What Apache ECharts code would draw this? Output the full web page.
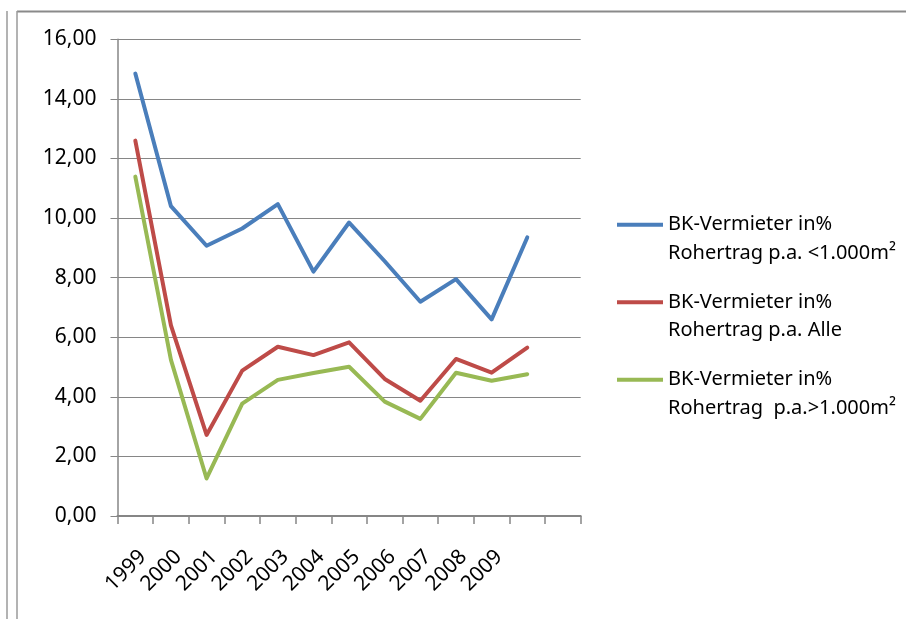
<!DOCTYPE html>
<html>
<head>
    <meta charset="utf-8" />
    <title>BK-Vermieter</title>
    <script src="https://cdn.jsdelivr.net/npm/echarts@6/dist/echarts.min.js"></script>
    <style>
        html, body { margin: 0; padding: 0; background: #fff; }
    </style>
</head>
<body>
    <div id="main" style="width: 906px;height:619px;"></div>
    <script type="text/javascript">
        // Jahre (die letzten zwei Kategorien sind leer beschriftet)
        const years = ['1999', '2000', '2001', '2002', '2003', '2004', '2005', '2006', '2007', '2008', '2009', '', ''];

        const namesSmall = 'BK-Vermieter in%\nRohertrag p.a. <1.000m²';
        const namesAll = 'BK-Vermieter in%\nRohertrag p.a. Alle';
        const namesLarge = 'BK-Vermieter in%\nRohertrag  p.a.>1.000m²';

        const valuesSmall = [14.85, 10.4, 9.07, 9.65, 10.47, 8.2, 9.85, 8.55, 7.19, 7.95, 6.6, 9.35];
        const valuesAll = [12.6, 6.4, 2.72, 4.88, 5.68, 5.4, 5.83, 4.6, 3.87, 5.27, 4.81, 5.65];
        const valuesLarge = [11.39, 5.24, 1.26, 3.77, 4.57, 4.8, 5.01, 3.84, 3.26, 4.81, 4.54, 4.76];

        const yTicks = { min: 0, max: 16, interval: 2 };

        const font = 'Noto Sans';
        const gray = '#868686';

        let myChart = echarts.init(document.getElementById('main'));

        function lineSerie(name, data, color) {
            return {
                name: name,
                type: 'line',
                data: data,
                symbol: 'none',
                color: color,
                lineStyle: { width: 4, color: color, cap: 'round', join: 'round' }
            };
        }

        let option = {
            animation: false,
            backgroundColor: '#fff',
            grid: {
                left: 117.5,
                right: 325.3,
                top: 39.3,
                bottom: 103,
                containLabel: false,
                outerBoundsMode: 'none'
            },
            xAxis: {
                type: 'category',
                data: years,
                boundaryGap: true,
                axisLine: { show: true, lineStyle: { color: gray, width: 2 } },
                axisTick: { show: true, length: 8, interval: 0, lineStyle: { color: gray, width: 1.5 } },
                axisLabel: {
                    interval: 0,
                    rotate: 45,
                    margin: 30,
                    align: 'right',
                    verticalAlign: 'top',
                    fontFamily: font,
                    fontSize: 21,
                    color: '#000'
                },
                splitLine: { show: false }
            },
            yAxis: {
                type: 'value',
                min: yTicks.min,
                max: yTicks.max,
                interval: yTicks.interval,
                axisLine: { show: true, lineStyle: { color: gray, width: 1.5 } },
                axisTick: { show: true, length: 7, lineStyle: { color: gray, width: 1 } },
                axisLabel: {
                    margin: 21,
                    fontFamily: font,
                    fontSize: 21,
                    color: '#000',
                    formatter: v => v.toFixed(2).replace('.', ',')
                },
                splitLine: { show: true, lineStyle: { color: gray, width: 1 } }
            },
            legend: {
                orient: 'vertical',
                left: 617,
                top: 182,
                padding: 0,
                itemGap: -8,
                icon: 'rect',
                itemWidth: 46,
                itemHeight: 4,
                selectedMode: false,
                // leere erste Zeile, damit das Linien-Symbol auf Höhe der ersten Textzeile steht
                formatter: n => '\n' + n,
                textStyle: {
                    fontFamily: font,
                    fontSize: 20,
                    lineHeight: 28.5,
                    color: '#000'
                }
            },
            graphic: [
                // Rahmen oben und links
                { type: 'line', shape: { x1: 17, y1: 11.5, x2: 906, y2: 11.5 }, style: { stroke: '#8a8a8a', lineWidth: 2 } },
                { type: 'line', shape: { x1: 17, y1: 11, x2: 17, y2: 619 }, style: { stroke: '#9a9a9a', lineWidth: 1.5 } },
                { type: 'line', shape: { x1: 7, y1: 11, x2: 7, y2: 619 }, style: { stroke: '#9a9a9a', lineWidth: 1.5 } }
            ],
            series: [
                lineSerie(namesSmall, valuesSmall, '#4A7EBB'),
                lineSerie(namesAll, valuesAll, '#BE4B48'),
                lineSerie(namesLarge, valuesLarge, '#98B954')
            ]
        };

        myChart.setOption(option);
    </script>
</body>
</html>
